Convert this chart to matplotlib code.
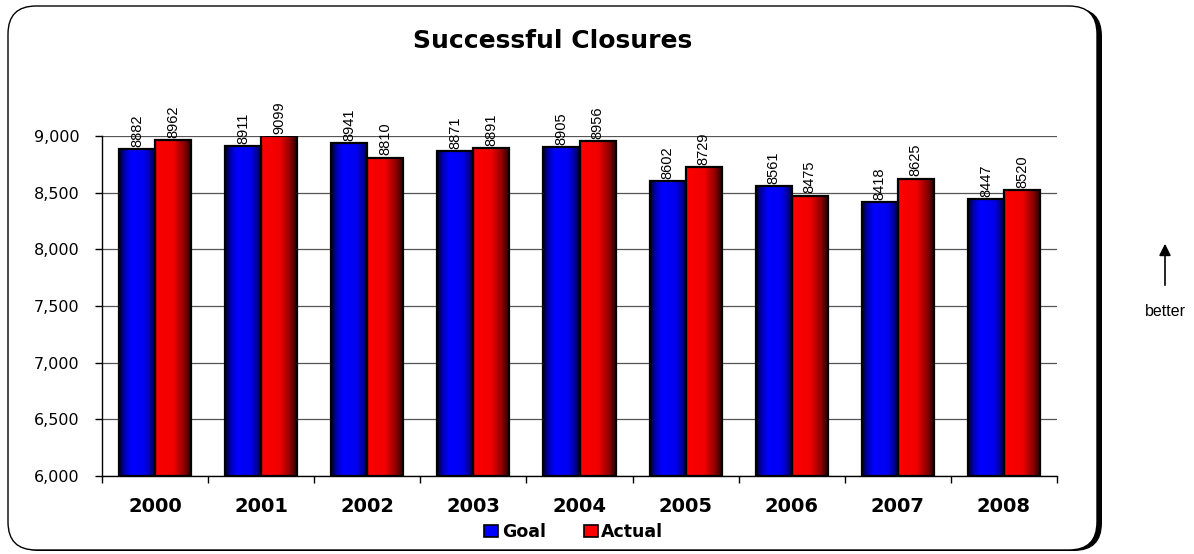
import numpy as np
import matplotlib
matplotlib.use("Agg")
import matplotlib.pyplot as plt
from matplotlib.patches import FancyBboxPatch, Rectangle, FancyArrowPatch
from matplotlib.colors import LinearSegmentedColormap
from matplotlib.ticker import FuncFormatter, MultipleLocator
from matplotlib.transforms import IdentityTransform

years = ["2000", "2001", "2002", "2003", "2004", "2005", "2006", "2007", "2008"]
goal = [8882, 8911, 8941, 8871, 8905, 8602, 8561, 8418, 8447]
actual = [8962, 9099, 8810, 8891, 8956, 8729, 8475, 8625, 8520]

plt.rcParams['font.family'] = ['Liberation Sans', 'DejaVu Sans']
wide = ['DejaVu Sans']

W, H = 1194, 554
fig = plt.figure(figsize=(W / 100, H / 100), dpi=100)

# rounded frame (pixel coords) with a heavy shadow on the right side
px = IdentityTransform()
shadow = FancyBboxPatch((12, 3), 1090, 543, boxstyle="round,pad=0,rounding_size=28",
                        transform=px, facecolor="black", edgecolor="none", zorder=-2)
frame = FancyBboxPatch((8, 4), 1089, 544, boxstyle="round,pad=0,rounding_size=28",
                       transform=px, facecolor="white", edgecolor="black",
                       linewidth=1.0, zorder=-1)
fig.patches.extend([shadow, frame])

ax = fig.add_axes([102 / W, 1 - 476 / H, (1057 - 102) / W, (476 - 136) / H])
ax.set_facecolor("none")
ymin, ymax = 6000, 9000

blue_cmap = LinearSegmentedColormap.from_list(
    "bl", [(0.0, "#000020"), (0.15, "#0000b0"), (0.32, "#0000ff"),
           (0.7, "#0000f0"), (0.88, "#000090"), (1.0, "#000020")])
red_cmap = LinearSegmentedColormap.from_list(
    "rd", [(0.0, "#ff0000"), (0.5, "#f00000"), (0.78, "#900000"),
           (1.0, "#1a0000")])
grad = np.linspace(0, 1, 256).reshape(1, -1)

bw = 0.34
for i in range(len(years)):
    for j, (vals, cmap) in enumerate([(goal, blue_cmap), (actual, red_cmap)]):
        x0 = i + 0.16 + j * bw
        top = min(vals[i], ymax)  # 2001 actual runs past the axis top, so clip it
        ax.imshow(grad, cmap=cmap, aspect="auto", extent=(x0, x0 + bw, ymin, top),
                  zorder=2, interpolation="bilinear")
        ax.add_patch(Rectangle((x0, ymin), bw, top - ymin, facecolor="none",
                               edgecolor="black", linewidth=1.6, zorder=3))
        ax.annotate(str(vals[i]), (x0 + bw / 2, top), xytext=(0, 1.5),
                    textcoords="offset points", rotation=90, ha="center",
                    va="bottom", fontsize=10.5, annotation_clip=False)

ax.set_xlim(0, len(years))
ax.set_ylim(ymin, ymax)
ax.yaxis.set_major_locator(MultipleLocator(500))
ax.yaxis.set_major_formatter(FuncFormatter(lambda v, p: f"{int(v):,}"))
ax.grid(axis="y", color="#555555", linewidth=0.9, zorder=1)
ax.set_axisbelow(True)

ax.set_xticks(np.arange(len(years) + 1))
ax.set_xticklabels([])
ax.set_xticks(np.arange(len(years)) + 0.5, minor=True)
ax.set_xticklabels(years, minor=True, fontsize=14, fontweight="bold", family=wide)
ax.tick_params(axis="x", which="minor", length=0, pad=15)
ax.tick_params(axis="x", which="major", length=5, direction="out", width=1)
ax.tick_params(axis="y", length=5, direction="out", width=1, labelsize=11.5, pad=11)
for lab in ax.get_yticklabels():
    lab.set_family(wide)

for s in ["top", "right"]:
    ax.spines[s].set_visible(False)
for s in ["left", "bottom"]:
    ax.spines[s].set_linewidth(1.0)

fig.text(553 / W, 1 - 41 / H, "Successful Closures", ha="center", va="center",
         fontsize=18, fontweight="bold", family=wide)

# legend
leg_handles = [Rectangle((0, 0), 1, 1, facecolor="#0000ff", edgecolor="black", linewidth=1.2),
               Rectangle((0, 0), 1, 1, facecolor="#ff0000", edgecolor="black", linewidth=1.2)]
fig.legend(leg_handles, ["Goal", "Actual"], loc="center",
           bbox_to_anchor=(574 / W, 1 - 532 / H), ncol=2, frameon=False,
           prop={"weight": "bold", "size": 12.5, "family": wide}, handlelength=0.8,
           handleheight=0.7, handletextpad=0.2, columnspacing=2.2)

# "better" arrow outside the frame
fig.patches.append(FancyArrowPatch(
    (1165 / W, 1 - 288 / H), (1165 / W, 1 - 241 / H),
    transform=fig.transFigure, arrowstyle="-|>,head_length=7,head_width=3.5",
    color="black", linewidth=1.2))
fig.text(1165 / W, 1 - 311 / H, "better", ha="center", va="center", fontsize=11.5)

fig.savefig("out.png", dpi=100)
